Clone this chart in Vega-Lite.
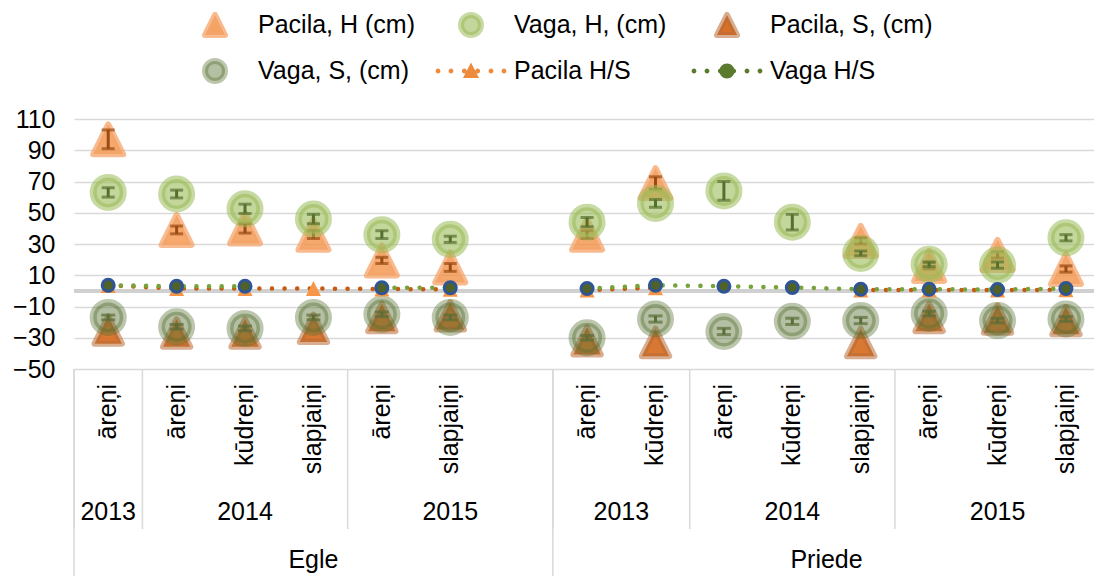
{
  "$schema": "https://vega.github.io/schema/vega-lite/v6.json",
  "width": 1020,
  "height": 250,
  "autosize": {"type": "none"},
  "padding": {"left": 74, "top": 119, "right": 0, "bottom": 207},
  "background": "white",
  "config": {
    "view": {"stroke": null},
    "font": "Liberation Sans",
    "text": {"font": "Liberation Sans"},
    "axisY": {"grid": true, "gridColor": "#D9D9D9", "gridWidth": 1.5, "domain": false, "ticks": false, "labelFontSize": 25, "labelFont": "Liberation Sans", "labelColor": "#000000", "labelPadding": 19, "title": null}
  },
  "datasets": {
    "cats": [
      {"n": 1, "species": "Egle", "year": "2013", "cls": "āreņi", "pH": 97, "pHe": 6, "vH": 63, "vHe": 3, "pS": -25, "vS": -17, "vSe": 1.5, "pHS": 3.5, "vHS": 3.6},
      {"n": 2, "species": "Egle", "year": "2014", "cls": "āreņi", "pH": 39, "pHe": 2.5, "vH": 62, "vHe": 2.5, "pS": -27, "vS": -23, "vSe": 1.5, "pHS": 1.5, "vHS": 3.0},
      {"n": 3, "species": "Egle", "year": "2014", "cls": "kūdreņi", "pH": 40, "pHe": 3, "vH": 52.5, "vHe": 3, "pS": -27, "vS": -24, "vSe": 1.5, "pHS": 1.5, "vHS": 3.0},
      {"n": 4, "species": "Egle", "year": "2014", "cls": "slapjaiņi", "pH": 36, "pHe": 2.5, "vH": 46, "vHe": 3, "pS": -24, "vS": -17, "vSe": 1.5, "pHS": 1.5, "vHS": null},
      {"n": 5, "species": "Egle", "year": "2015", "cls": "āreņi", "pH": 19.5, "pHe": 2, "vH": 36, "vHe": 2.5, "pS": -17, "vS": -15, "vSe": 1.5, "pHS": 1.2, "vHS": 2.0},
      {"n": 6, "species": "Egle", "year": "2015", "cls": "slapjaiņi", "pH": 15, "pHe": 2.5, "vH": 33, "vHe": 2, "pS": -16, "vS": -17, "vSe": 1.5, "pHS": 1.0, "vHS": 2.0},
      {"n": 7, "species": "Egle", "year": "2015", "cls": "", "pH": null, "pHe": null, "vH": null, "vHe": null, "pS": null, "vS": null, "vSe": null, "pHS": null, "vHS": null},
      {"n": 8, "species": "Priede", "year": "2013", "cls": "āreņi", "pH": 36, "pHe": 2.5, "vH": 44, "vHe": 3, "pS": -32, "vS": -30, "vSe": 1.5, "pHS": 0.5, "vHS": 1.5},
      {"n": 9, "species": "Priede", "year": "2013", "cls": "kūdreņi", "pH": 69, "pHe": 4, "vH": 56, "vHe": 2.5, "pS": -33, "vS": -18, "vSe": 2, "pHS": 2.0, "vHS": 3.6},
      {"n": 10, "species": "Priede", "year": "2014", "cls": "āreņi", "pH": null, "pHe": null, "vH": 64, "vHe": 6, "pS": null, "vS": -26, "vSe": 2, "pHS": null, "vHS": 3.0},
      {"n": 11, "species": "Priede", "year": "2014", "cls": "kūdreņi", "pH": null, "pHe": null, "vH": 44, "vHe": 5, "pS": null, "vS": -19.5, "vSe": 2, "pHS": null, "vHS": 2.2},
      {"n": 12, "species": "Priede", "year": "2014", "cls": "slapjaiņi", "pH": 32, "pHe": 2, "vH": 24, "vHe": 1.5, "pS": -33, "vS": -19, "vSe": 2, "pHS": 0.5, "vHS": 1.0},
      {"n": 13, "species": "Priede", "year": "2015", "cls": "āreņi", "pH": 16, "pHe": 2, "vH": 17, "vHe": 1.5, "pS": -17, "vS": -14.5, "vSe": 1.5, "pHS": 0.5, "vHS": 1.0},
      {"n": 14, "species": "Priede", "year": "2015", "cls": "kūdreņi", "pH": 23, "pHe": 2, "vH": 16.5, "vHe": 2, "pS": -18, "vS": -19, "vSe": 1.5, "pHS": 0.5, "vHS": 0.9},
      {"n": 15, "species": "Priede", "year": "2015", "cls": "slapjaiņi", "pH": 14, "pHe": 2, "vH": 34, "vHe": 2, "pS": -19, "vS": -18, "vSe": 1.5, "pHS": 0.7, "vHS": 1.5}
    ],
    "leg": [
      {"series": "Pacila, H (cm)"},
      {"series": "Vaga, H, (cm)"},
      {"series": "Pacila, S, (cm)"},
      {"series": "Vaga, S, (cm)"},
      {"series": "Pacila H/S"},
      {"series": "Vaga H/S"}
    ]
  },
  "data": {"name": "cats"},
  "layer": [
    {
      "mark": {"type": "rule", "color": "#D0D0D0", "strokeWidth": 2.5},
      "encoding": {
        "y": {"datum": 0, "type": "quantitative", "scale": {"domain": [-50, 110], "nice": false, "zero": false}, "title": null,
          "axis": {"values": [-50, -30, -10, 10, 30, 50, 70, 90, 110], "title": null}}
      }
    },
    {
      "mark": {"type": "point", "shape": "M0,-1L1,1L-1,1Z", "filled": true, "size": 900, "fill": "#F28C3C", "fillOpacity": 0.75, "stroke": "#F4A46A", "strokeOpacity": 0.75, "strokeWidth": 6, "strokeJoin": "round", "opacity": 1},
      "encoding": {
        "x": {"field": "n", "type": "quantitative", "scale": {"domain": [0.5, 15.41], "nice": false, "zero": false}, "axis": null},
        "y": {"field": "pH", "type": "quantitative", "scale": {"domain": [-50, 110], "nice": false, "zero": false}, "title": null, "axis": {"values": [-50, -30, -10, 10, 30, 50, 70, 90, 110], "title": null}}
      }
    },
    {
      "transform": [{"filter": "isValid(datum.pH)"}],
      "mark": {"type": "errorbar", "ticks": true, "size": 13, "thickness": 3, "color": "#9A4A12"},
      "encoding": {
        "x": {"field": "n", "type": "quantitative", "scale": {"domain": [0.5, 15.41], "nice": false, "zero": false}, "axis": null},
        "y": {"field": "pH", "type": "quantitative", "scale": {"domain": [-50, 110], "nice": false, "zero": false}, "title": null, "axis": {"values": [-50, -30, -10, 10, 30, 50, 70, 90, 110], "title": null}},
        "yError": {"field": "pHe"}
      }
    },
    {
      "mark": {"type": "point", "shape": "circle", "filled": true, "size": 900, "fill": "#9BBB59", "fillOpacity": 0.6, "stroke": "#9BBB59", "strokeOpacity": 0.55, "strokeWidth": 7, "opacity": 1},
      "encoding": {
        "x": {"field": "n", "type": "quantitative", "scale": {"domain": [0.5, 15.41], "nice": false, "zero": false}, "axis": null},
        "y": {"field": "vH", "type": "quantitative", "scale": {"domain": [-50, 110], "nice": false, "zero": false}, "title": null, "axis": {"values": [-50, -30, -10, 10, 30, 50, 70, 90, 110], "title": null}}
      }
    },
    {
      "transform": [{"filter": "isValid(datum.vH)"}],
      "mark": {"type": "errorbar", "ticks": true, "size": 13, "thickness": 3, "color": "#55702E"},
      "encoding": {
        "x": {"field": "n", "type": "quantitative", "scale": {"domain": [0.5, 15.41], "nice": false, "zero": false}, "axis": null},
        "y": {"field": "vH", "type": "quantitative", "scale": {"domain": [-50, 110], "nice": false, "zero": false}, "title": null, "axis": {"values": [-50, -30, -10, 10, 30, 50, 70, 90, 110], "title": null}},
        "yError": {"field": "vHe"}
      }
    },
    {
      "mark": {"type": "point", "shape": "M0,-1L1,1L-1,1Z", "filled": true, "size": 750, "fill": "#D2600F", "fillOpacity": 0.85, "stroke": "#B86A35", "strokeOpacity": 0.55, "strokeWidth": 6, "strokeJoin": "round", "opacity": 1},
      "encoding": {
        "x": {"field": "n", "type": "quantitative", "scale": {"domain": [0.5, 15.41], "nice": false, "zero": false}, "axis": null},
        "y": {"field": "pS", "type": "quantitative", "scale": {"domain": [-50, 110], "nice": false, "zero": false}, "title": null, "axis": {"values": [-50, -30, -10, 10, 30, 50, 70, 90, 110], "title": null}}
      }
    },
    {
      "mark": {"type": "point", "shape": "circle", "filled": true, "size": 900, "fill": "#587032", "fillOpacity": 0.45, "stroke": "#587032", "strokeOpacity": 0.4, "strokeWidth": 7, "opacity": 1},
      "encoding": {
        "x": {"field": "n", "type": "quantitative", "scale": {"domain": [0.5, 15.41], "nice": false, "zero": false}, "axis": null},
        "y": {"field": "vS", "type": "quantitative", "scale": {"domain": [-50, 110], "nice": false, "zero": false}, "title": null, "axis": {"values": [-50, -30, -10, 10, 30, 50, 70, 90, 110], "title": null}}
      }
    },
    {
      "transform": [{"filter": "isValid(datum.vS)"}],
      "mark": {"type": "errorbar", "ticks": true, "size": 14, "thickness": 3, "color": "#5A6E38"},
      "encoding": {
        "x": {"field": "n", "type": "quantitative", "scale": {"domain": [0.5, 15.41], "nice": false, "zero": false}, "axis": null},
        "y": {"field": "vS", "type": "quantitative", "scale": {"domain": [-50, 110], "nice": false, "zero": false}, "title": null, "axis": {"values": [-50, -30, -10, 10, 30, 50, 70, 90, 110], "title": null}},
        "yError": {"field": "vSe"}
      }
    },
    {
      "mark": {"type": "line", "color": "#C55A11", "strokeWidth": 4.5, "strokeDash": [0.1, 12.5], "strokeCap": "round", "invalid": "break-paths-show-domains"},
      "encoding": {
        "x": {"field": "n", "type": "quantitative", "scale": {"domain": [0.5, 15.41], "nice": false, "zero": false}, "axis": null},
        "y": {"field": "pHS", "type": "quantitative", "scale": {"domain": [-50, 110], "nice": false, "zero": false}, "title": null, "axis": {"values": [-50, -30, -10, 10, 30, 50, 70, 90, 110], "title": null}}
      }
    },
    {
      "mark": {"type": "point", "shape": "M0,-1L1,1L-1,1Z", "filled": true, "size": 225, "fill": "#F79646", "opacity": 1},
      "encoding": {
        "x": {"field": "n", "type": "quantitative", "scale": {"domain": [0.5, 15.41], "nice": false, "zero": false}, "axis": null},
        "y": {"field": "pHS", "type": "quantitative", "scale": {"domain": [-50, 110], "nice": false, "zero": false}, "title": null, "axis": {"values": [-50, -30, -10, 10, 30, 50, 70, 90, 110], "title": null}}
      }
    },
    {
      "mark": {"type": "line", "color": "#76A33A", "strokeWidth": 4.5, "strokeDash": [0.1, 12.5], "strokeCap": "round", "invalid": "break-paths-show-domains"},
      "encoding": {
        "x": {"field": "n", "type": "quantitative", "scale": {"domain": [0.5, 15.41], "nice": false, "zero": false}, "axis": null},
        "y": {"field": "vHS", "type": "quantitative", "scale": {"domain": [-50, 110], "nice": false, "zero": false}, "title": null, "axis": {"values": [-50, -30, -10, 10, 30, 50, 70, 90, 110], "title": null}}
      }
    },
    {
      "mark": {"type": "point", "shape": "circle", "filled": true, "size": 144, "fill": "#4F6228", "stroke": "#2F5597", "strokeWidth": 3, "opacity": 1},
      "encoding": {
        "x": {"field": "n", "type": "quantitative", "scale": {"domain": [0.5, 15.41], "nice": false, "zero": false}, "axis": null},
        "y": {"field": "vHS", "type": "quantitative", "scale": {"domain": [-50, 110], "nice": false, "zero": false}, "title": null, "axis": {"values": [-50, -30, -10, 10, 30, 50, 70, 90, 110], "title": null}}
      }
    },
    {
      "mark": {"type": "text", "angle": 270, "align": "right", "baseline": "middle", "fontSize": 25, "font": "Liberation Sans", "color": "#000000"},
      "encoding": {
        "x": {"field": "n", "type": "quantitative", "scale": {"domain": [0.5, 15.41], "nice": false, "zero": false}, "axis": null},
        "y": {"datum": -59.6, "type": "quantitative", "scale": {"domain": [-50, 110], "nice": false, "zero": false}, "title": null, "axis": {"values": [-50, -30, -10, 10, 30, 50, 70, 90, 110], "title": null}},
        "text": {"field": "cls"}
      }
    },
    {
      "transform": [
        {"aggregate": [{"op": "min", "field": "n", "as": "lo"}, {"op": "max", "field": "n", "as": "hi"}], "groupby": ["species", "year"]},
        {"calculate": "datum.lo - 0.5", "as": "edge"},
        {"calculate": "(datum.lo + datum.hi) / 2", "as": "mid"}
      ],
      "layer": [
        {
          "mark": {"type": "rule", "color": "#D9D9D9", "strokeWidth": 1.5},
          "encoding": {
            "x": {"field": "edge", "type": "quantitative", "scale": {"domain": [0.5, 15.41], "nice": false, "zero": false}, "axis": null},
            "y": {"datum": -50, "type": "quantitative", "scale": {"domain": [-50, 110], "nice": false, "zero": false}, "title": null, "axis": {"values": [-50, -30, -10, 10, 30, 50, 70, 90, 110], "title": null}},
            "y2": {"datum": -152.4}
          }
        },
        {
          "mark": {"type": "text", "align": "center", "baseline": "middle", "fontSize": 25, "font": "Liberation Sans", "color": "#000000"},
          "encoding": {
            "x": {"field": "mid", "type": "quantitative", "scale": {"domain": [0.5, 15.41], "nice": false, "zero": false}, "axis": null},
            "y": {"datum": -141.5, "type": "quantitative", "scale": {"domain": [-50, 110], "nice": false, "zero": false}, "title": null, "axis": {"values": [-50, -30, -10, 10, 30, 50, 70, 90, 110], "title": null}},
            "text": {"field": "year"}
          }
        }
      ]
    },
    {
      "transform": [
        {"aggregate": [{"op": "min", "field": "n", "as": "lo"}, {"op": "max", "field": "n", "as": "hi"}], "groupby": ["species"]},
        {"calculate": "datum.lo - 0.5", "as": "edge"},
        {"calculate": "(datum.lo + datum.hi) / 2", "as": "mid"}
      ],
      "layer": [
        {
          "mark": {"type": "rule", "color": "#D9D9D9", "strokeWidth": 1.5},
          "encoding": {
            "x": {"field": "edge", "type": "quantitative", "scale": {"domain": [0.5, 15.41], "nice": false, "zero": false}, "axis": null},
            "y": {"datum": -50, "type": "quantitative", "scale": {"domain": [-50, 110], "nice": false, "zero": false}, "title": null, "axis": {"values": [-50, -30, -10, 10, 30, 50, 70, 90, 110], "title": null}},
            "y2": {"datum": -183}
          }
        },
        {
          "mark": {"type": "text", "align": "center", "baseline": "middle", "fontSize": 25, "font": "Liberation Sans", "color": "#000000"},
          "encoding": {
            "x": {"field": "mid", "type": "quantitative", "scale": {"domain": [0.5, 15.41], "nice": false, "zero": false}, "axis": null},
            "y": {"datum": -172.2, "type": "quantitative", "scale": {"domain": [-50, 110], "nice": false, "zero": false}, "title": null, "axis": {"values": [-50, -30, -10, 10, 30, 50, 70, 90, 110], "title": null}},
            "text": {"field": "species"}
          }
        }
      ]
    },
    {
      "data": {"name": "leg"},
      "mark": {"type": "point", "filled": true, "opacity": 0},
      "encoding": {
        "color": {
          "field": "series", "type": "nominal",
          "scale": {"domain": ["Pacila, H (cm)", "Vaga, H, (cm)", "Pacila, S, (cm)", "Vaga, S, (cm)", "Pacila H/S", "Vaga H/S"],
                    "range": ["#F28C3C", "#9BBB59", "#D2600F", "#587032", "#EE8A3C", "#5A7A2E"]},
          "legend": {
            "orient": "none", "legendX": 128, "legendY": -107,
            "direction": "horizontal", "columns": 3, "gridAlign": "all",
            "title": null, "padding": 0,
            "labelFontSize": 25, "labelFont": "Liberation Sans", "labelColor": "#000000", "labelLimit": 400,
            "labelOffset": 30, "columnPadding": 11, "rowPadding": 20,
            "symbolSize": 400, "symbolStrokeWidth": 6,
            "encode": {
              "symbols": {
                "update": {
                  "opacity": {"value": 1},
                  "strokeWidth": {"value": 6},
                  "fillOpacity": {"signal": "[0.8,0.6,0.9,0.45,1,1][indexof(['Pacila, H (cm)','Vaga, H, (cm)','Pacila, S, (cm)','Vaga, S, (cm)','Pacila H/S','Vaga H/S'], datum.value)]"},
                  "stroke": {"signal": "['#F4A46A','#9BBB59','#B86A35','#587032','transparent','transparent'][indexof(['Pacila, H (cm)','Vaga, H, (cm)','Pacila, S, (cm)','Vaga, S, (cm)','Pacila H/S','Vaga H/S'], datum.value)]"},
                  "strokeOpacity": {"signal": "[0.75,0.55,0.55,0.4,0,0][indexof(['Pacila, H (cm)','Vaga, H, (cm)','Pacila, S, (cm)','Vaga, S, (cm)','Pacila H/S','Vaga H/S'], datum.value)]"},
                  "strokeJoin": {"value": "round"}
                }
              }
            }
          }
        },
        "shape": {
          "field": "series", "type": "nominal",
          "scale": {"domain": ["Pacila, H (cm)", "Vaga, H, (cm)", "Pacila, S, (cm)", "Vaga, S, (cm)", "Pacila H/S", "Vaga H/S"],
                    "range": [
                      "M-3.6,0M3.6,0M0,-1L1,1L-1,1Z",
                      "M-3.6,0M3.6,0M1,0A1,1,0,1,1,-1,0A1,1,0,1,1,1,0Z",
                      "M-3.6,0M3.6,0M0,-1L1,1L-1,1Z",
                      "M-3.6,0M3.6,0M1,0A1,1,0,1,1,-1,0A1,1,0,1,1,1,0Z",
                      "M-3.6,0M3.6,0M-3.06,0A0.24,0.24,0,1,1,-3.54,0A0.24,0.24,0,1,1,-3.06,0ZM-1.76,0A0.24,0.24,0,1,1,-2.24,0A0.24,0.24,0,1,1,-1.76,0ZM-0.43,0A0.24,0.24,0,1,1,-0.91,0A0.24,0.24,0,1,1,-0.43,0ZM0.91,0A0.24,0.24,0,1,1,0.43,0A0.24,0.24,0,1,1,0.91,0ZM2.24,0A0.24,0.24,0,1,1,1.76,0A0.24,0.24,0,1,1,2.24,0ZM3.54,0A0.24,0.24,0,1,1,3.06,0A0.24,0.24,0,1,1,3.54,0ZM0,-0.85L0.8,0.7L-0.8,0.7Z",
                      "M-3.6,0M3.6,0M-3.06,0A0.24,0.24,0,1,1,-3.54,0A0.24,0.24,0,1,1,-3.06,0ZM-1.76,0A0.24,0.24,0,1,1,-2.24,0A0.24,0.24,0,1,1,-1.76,0ZM-0.43,0A0.24,0.24,0,1,1,-0.91,0A0.24,0.24,0,1,1,-0.43,0ZM0.91,0A0.24,0.24,0,1,1,0.43,0A0.24,0.24,0,1,1,0.91,0ZM2.24,0A0.24,0.24,0,1,1,1.76,0A0.24,0.24,0,1,1,2.24,0ZM3.54,0A0.24,0.24,0,1,1,3.06,0A0.24,0.24,0,1,1,3.54,0ZM0.75,0A0.75,0.75,0,1,1,-0.75,0A0.75,0.75,0,1,1,0.75,0Z"
                    ]}
        }
      }
    }
  ]
}
